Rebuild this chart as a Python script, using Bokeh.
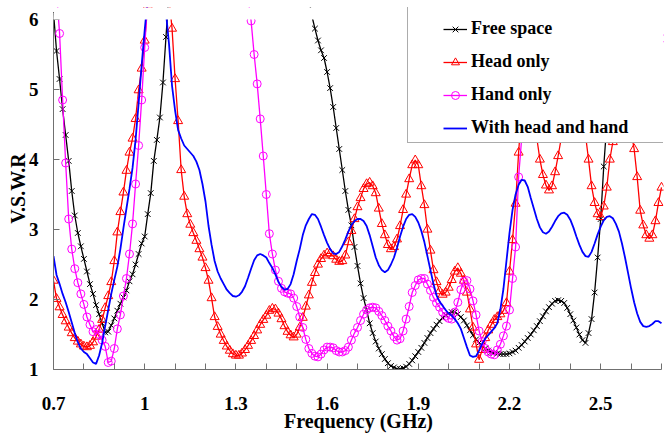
import numpy as np
from bokeh.plotting import figure
from bokeh.models import FixedTicker, Legend, LegendItem, Range1d, BoxAnnotation
from bokeh.embed import file_html
from bokeh.resources import INLINE

# Frequency grid of the measurement (GHz), 0.70 ... 2.70 in 0.01 steps
freq_ghz = [round(0.70 + 0.01 * i, 2) for i in range(201)]

N = None
# V.S.W.R (None = above the plotted range / not visible)
free_space = [
    6.10, 5.55, 5.15, 4.72, 4.35, 3.98, 3.55, 3.20, 2.95, 2.76,   # 0.70
    2.58, 2.40, 2.22, 2.08, 1.92, 1.79, 1.66, 1.53, 1.54, 1.63,   # 0.80
    1.73, 1.84, 1.94, 2.03, 2.13, 2.26, 2.36, 2.50, 2.65, 2.80,   # 0.90
    2.90, 3.22, 3.52, 3.98, 4.28, 4.60, 5.10, 5.75, 6.40, N,      # 1.00
    N, N, N, N, N, N, N, N, N, N,                                 # 1.10
    N, N, N, N, N, N, N, N, N, N,                                 # 1.20
    N, N, N, N, N, N, N, N, N, N,                                 # 1.30
    N, N, N, N, N, N, N, N, N, N,                                 # 1.40
    N, N, N, N, 6.30, 6.05, 5.87, 5.70, 5.56, 5.45,               # 1.50
    5.25, 5.02, 4.75, 4.45, 4.15, 3.85, 3.55, 3.28, 3.06, 2.75,   # 1.60
    2.48, 2.23, 2.02, 1.85, 1.66, 1.52, 1.40, 1.30, 1.22, 1.15,   # 1.70
    1.09, 1.05, 1.03, 1.01, 1.01, 1.02, 1.04, 1.08, 1.13, 1.19,   # 1.80
    1.25, 1.31, 1.38, 1.45, 1.52, 1.58, 1.64, 1.69, 1.74, 1.78,   # 1.90
    1.80, 1.82, 1.82, 1.79, 1.75, 1.70, 1.63, 1.56, 1.49, 1.43,   # 2.00
    1.38, 1.34, 1.30, 1.27, 1.25, 1.24, 1.23, 1.22, 1.22, 1.22,   # 2.10
    1.23, 1.25, 1.27, 1.31, 1.35, 1.40, 1.45, 1.50, 1.56, 1.62,   # 2.20
    1.69, 1.76, 1.83, 1.89, 1.94, 1.98, 1.99, 1.98, 1.95, 1.88,   # 2.30
    1.79, 1.70, 1.60, 1.50, 1.42, 1.38, 1.52, 1.72, 2.10, 2.60,   # 2.40
    3.15, 3.90, 4.50, 5.10, 5.60, 6.20, N, N, N, N,               # 2.50
    N, N, N, N, N, N, N, N, N, N,                                 # 2.60
    N,                                                            # 2.70
]

head_only = [
    2.27, 2.01, 1.89, 1.78, 1.69, 1.60, 1.52, 1.45, 1.40, 1.36,   # 0.70
    1.33, 1.32, 1.34, 1.39, 1.47, 1.57, 1.71, 1.88, 2.05, 2.25,   # 0.80
    2.55, 2.96, 3.25, 3.53, 3.84, 4.10, 4.30, 4.58, 4.99, 5.30,   # 0.90
    5.70, 6.20, N, N, N, N, N, N, 6.30, 5.87,                     # 1.00
    5.15, 4.55, 3.85, 3.47, 3.22, 3.07, 2.95, 2.84, 2.72, 2.60,   # 1.10
    2.45, 2.27, 2.02, 1.75, 1.61, 1.50, 1.41, 1.33, 1.27, 1.22,   # 1.20
    1.20, 1.20, 1.23, 1.28, 1.34, 1.41, 1.48, 1.56, 1.64, 1.71,   # 1.30
    1.77, 1.84, 1.87, 1.86, 1.80, 1.72, 1.62, 1.54, 1.49, 1.46,   # 1.40
    1.50, 1.60, 1.74, 1.90, 2.06, 2.24, 2.38, 2.50, 2.58, 2.63,   # 1.50
    2.66, 2.66, 2.62, 2.57, 2.54, 2.55, 2.63, 2.82, 2.98, 3.15,   # 1.60
    3.32, 3.45, 3.58, 3.65, 3.67, 3.62, 3.52, 3.30, 3.08, 2.92,   # 1.70
    2.78, 2.72, 2.75, 2.86, 3.05, 3.28, 3.50, 3.72, 3.92, 3.99,   # 1.80
    3.92, 3.62, 3.35, 3.00, 2.70, 2.42, 2.25, 2.12, 2.07, 2.10,   # 1.90
    2.17, 2.28, 2.40, 2.45, 2.37, 2.27, 2.10, 1.86, 1.60, 1.36,   # 2.00
    1.14, 1.28, 1.45, 1.56, 1.64, 1.71, 1.75, 1.79, 1.84, 1.95,   # 2.10
    2.40, 2.85, 3.37, 4.10, 4.70, 5.00, 5.10, 5.00, 4.70, 4.30,   # 2.20
    4.00, 3.78, 3.63, 3.56, 3.62, 3.82, 4.05, 4.30, 4.70, 5.00,   # 2.30
    5.20, 5.20, 5.00, 4.80, 4.60, 4.35, 4.00, 3.62, 3.38, 3.22,   # 2.40
    3.18, 3.33, 3.60, 4.00, 4.25, 4.70, 5.00, 5.10, 5.10, 4.90,   # 2.50
    4.40, 4.15, 3.75, 3.27, 3.06, 2.92, 2.87, 2.92, 3.12, 3.38,   # 2.60
    3.60,                                                         # 2.70
]

hand_only = [
    N, 6.40, 5.80, 4.85, 3.95, 3.15, 2.72, 2.44, 2.24, 2.08,      # 0.70
    1.93, 1.75, 1.64, 1.54, 1.57, 1.50, 1.42, 1.33, 1.10, 1.12,   # 0.80
    1.30, 1.58, 1.78, 2.05, 2.30, 2.65, 3.08, 3.65, 4.20, 4.85,   # 0.90
    5.60, 6.30, N, N, N, N, N, N, N, N,                           # 1.00
    N, N, N, N, N, N, N, N, N, N,                                 # 1.10
    N, N, N, N, N, N, N, N, N, N,                                 # 1.20
    N, N, N, N, 6.30, 5.98, 5.50, 5.08, 4.58, 4.05,               # 1.30
    3.50, 2.94, 2.65, 2.42, 2.26, 2.16, 2.11, 2.09, 2.08, 2.02,   # 1.40
    1.90, 1.75, 1.60, 1.43, 1.30, 1.23, 1.19, 1.18, 1.22, 1.28,   # 1.50
    1.32, 1.32, 1.31, 1.27, 1.25, 1.25, 1.27, 1.32, 1.42, 1.52,   # 1.60
    1.60, 1.70, 1.79, 1.85, 1.88, 1.89, 1.88, 1.83, 1.77, 1.70,   # 1.70
    1.62, 1.55, 1.47, 1.42, 1.44, 1.55, 1.72, 1.90, 2.10, 2.20,   # 1.80
    2.28, 2.30, 2.30, 2.22, 2.13, 2.03, 1.95, 1.89, 1.82, 1.76,   # 1.90
    1.73, 1.72, 1.82, 1.96, 2.14, 2.26, 2.27, 2.15, 1.98, 1.78,   # 2.00
    1.55, 1.40, 1.30, 1.25, 1.22, 1.21, 1.28, 1.36, 1.48, 1.62,   # 2.10
    1.85, 2.30, 2.75, 3.75, 4.30, 5.00, 5.50, 5.80, 6.20, N,      # 2.20
    N, N, N, N, N, N, N, N, N, N,                                 # 2.30
    N, N, N, N, N, N, N, N, N, N,                                 # 2.40
    N, N, N, N, N, N, N, N, N, N,                                 # 2.50
    N, N, N, N, N, N, N, N, N, N,                                 # 2.60
    5.73,                                                         # 2.70
]

head_and_hand = [
    2.62, 2.35, 2.22, 2.08, 1.96, 1.82, 1.67, 1.52, 1.39, 1.30,   # 0.70
    1.25, 1.22, 1.16, 1.10, 1.08, 1.20, 1.38, 1.62, 1.85, 2.08,   # 0.80
    2.28, 2.47, 2.72, 3.02, 3.30, 3.58, 3.88, 4.28, 4.80, 5.35,   # 0.90
    5.85, 6.30, N, N, N, N, N, 6.10, 5.65, 5.05,                  # 1.00
    4.70, 4.42, 4.30, 4.20, 4.15, 4.10, 4.05, 3.97, 3.85, 3.65,   # 1.10
    3.40, 3.05, 2.78, 2.55, 2.40, 2.30, 2.22, 2.14, 2.09, 2.05,   # 1.20
    2.04, 2.06, 2.11, 2.19, 2.31, 2.44, 2.56, 2.63, 2.65, 2.63,   # 1.30
    2.60, 2.52, 2.45, 2.36, 2.25, 2.18, 2.14, 2.15, 2.22, 2.36,   # 1.40
    2.55, 2.72, 2.92, 3.06, 3.15, 3.22, 3.21, 3.15, 3.04, 2.92,   # 1.50
    2.81, 2.72, 2.66, 2.65, 2.68, 2.76, 2.86, 2.97, 3.06, 3.12,   # 1.60
    3.15, 3.15, 3.12, 3.05, 2.92, 2.76, 2.60, 2.49, 2.42, 2.39,   # 1.70
    2.42, 2.50, 2.60, 2.74, 2.90, 3.04, 3.15, 3.21, 3.22, 3.18,   # 1.80
    3.10, 2.98, 2.82, 2.62, 2.42, 2.22, 2.06, 1.97, 1.91, 1.85,   # 1.90
    1.80, 1.77, 1.72, 1.66, 1.58, 1.45, 1.32, 1.20, 1.18, 1.19,   # 2.00
    1.27, 1.37, 1.44, 1.49, 1.54, 1.59, 1.66, 1.86, 2.15, 2.55,   # 2.10
    2.95, 3.28, 3.50, 3.64, 3.71, 3.70, 3.61, 3.45, 3.30, 3.15,   # 2.20
    3.03, 2.96, 2.94, 2.97, 3.04, 3.12, 3.19, 3.23, 3.24, 3.21,   # 2.30
    3.14, 3.03, 2.90, 2.78, 2.68, 2.62, 2.61, 2.68, 2.80, 2.93,   # 2.40
    3.04, 3.13, 3.18, 3.19, 3.16, 3.08, 2.97, 2.80, 2.60, 2.38,   # 2.50
    2.16, 1.96, 1.80, 1.68, 1.62, 1.61, 1.62, 1.65, 1.69, 1.69,   # 2.60
    1.66,                                                         # 2.70
]

series_names = ["Free space", "Head only", "Hand only", "With head and hand"]

x_ticks = [0.7, 1.0, 1.3, 1.6, 1.9, 2.2, 2.5]
x_tick_labels = ["0.7", "1", "1.3", "1.6", "1.9", "2.2", "2.5"]
x_minor_ticks = [0.8, 0.9, 1.1, 1.2, 1.4, 1.5, 1.7, 1.8, 2.0, 2.1, 2.3, 2.4, 2.6, 2.7]
y_ticks = [1, 2, 3, 4, 5, 6]
x_axis_span = (0.7, 2.7)
y_axis_span = (1, 6)

FONT = "Liberation Serif"

x = np.array(freq_ghz, dtype=float)
y_free = np.array(free_space, dtype=float)
y_head = np.array(head_only, dtype=float)
y_hand = np.array(hand_only, dtype=float)
y_both = np.array(head_and_hand, dtype=float)

# frame reaches a little above V.S.W.R = 6 so the legend box can sit there;
# the axes themselves are bounded to the plotted span
p = figure(width=665, height=438,
           x_range=Range1d(0.7, 2.7066), y_range=Range1d(1, 6.1714),
           output_backend="svg", toolbar_location=None,
           min_border_left=53, min_border_right=2, min_border_top=7, min_border_bottom=69)

l_free = p.line(x, y_free, line_color="black", line_width=1.3)
m_free = p.scatter(x, y_free, marker="x", size=8, line_color="black", line_width=1)
l_head = p.line(x, y_head, line_color="#ff0000", line_width=1.3)
m_head = p.scatter(x, y_head, marker="triangle", size=9, line_color="#ff0000",
                   fill_color=None, line_width=1)
l_hand = p.line(x, y_hand, line_color="#ff00ff", line_width=1.3)
m_hand = p.scatter(x, y_hand, marker="circle", size=8, line_color="#ff00ff",
                   fill_color=None, line_width=1)
l_both = p.line(x, y_both, line_color="#0000ff", line_width=1.8)

# blank strip above the top of the value axis
p.add_layout(BoxAnnotation(bottom=y_axis_span[1], fill_color="white", fill_alpha=1.0,
                           line_alpha=0))

# white legend box (drawn first), then the legend entries on top
dummy = p.line([np.nan], [np.nan], line_alpha=0)
box = Legend(items=[LegendItem(label=" ", renderers=[dummy])], location=(354, 226),
             padding=0, margin=0, spacing=0, glyph_width=256, glyph_height=136,
             label_standoff=0, label_width=0, label_height=0,
             label_text_font_size="1px", label_text_alpha=0,
             border_line_color="#5a5a5a", border_line_width=1,
             background_fill_color="white", background_fill_alpha=1)
leg = Legend(items=[
    LegendItem(label=series_names[0], renderers=[l_free, m_free]),
    LegendItem(label=series_names[1], renderers=[l_head, m_head]),
    LegendItem(label=series_names[2], renderers=[l_hand, m_hand]),
    LegendItem(label=series_names[3], renderers=[l_both]),
], location=(390, 231), padding=0, margin=0, spacing=12, glyph_width=24, glyph_height=20,
    label_standoff=4, label_height=20, label_text_font=FONT,
    label_text_font_style="bold",
    label_text_font_size="18px", label_text_color="black",
    border_line_alpha=0, background_fill_alpha=0)
p.add_layout(box, "center")
p.add_layout(leg, "center")

p.xaxis.ticker = FixedTicker(ticks=x_ticks, minor_ticks=x_minor_ticks)
p.xaxis.major_label_overrides = {t: s for t, s in zip(x_ticks, x_tick_labels)}
p.yaxis.ticker = FixedTicker(ticks=y_ticks, minor_ticks=[])
p.xaxis.bounds = x_axis_span
p.yaxis.bounds = y_axis_span
p.xaxis.axis_label = "Frequency (GHz)"
p.yaxis.axis_label = "V.S.W.R"

for ax in (p.xaxis[0], p.yaxis[0]):
    ax.axis_line_color = "#707070"
    ax.axis_line_width = 1
    ax.major_tick_line_color = "#707070"
    ax.minor_tick_line_color = "#707070"
    ax.major_tick_in = 6
    ax.major_tick_out = 0
    ax.minor_tick_in = 6
    ax.minor_tick_out = 0
    ax.major_label_text_font = FONT
    ax.major_label_text_font_style = "bold"
    ax.major_label_text_font_size = "19px"
    ax.major_label_text_color = "black"
    ax.axis_label_text_font = FONT
    ax.axis_label_text_font_style = "bold"
    ax.axis_label_text_font_size = "20px"
    ax.axis_label_text_color = "black"

p.xaxis.major_label_standoff = 27
p.xaxis.axis_label_standoff = -3
p.yaxis.major_label_standoff = 15
p.yaxis.axis_label_standoff = -3

p.xgrid.grid_line_color = None
p.ygrid.grid_line_color = None
p.outline_line_color = None
p.background_fill_color = "white"
p.border_fill_color = "white"

open("out.html", "w").write(file_html(p, INLINE))
